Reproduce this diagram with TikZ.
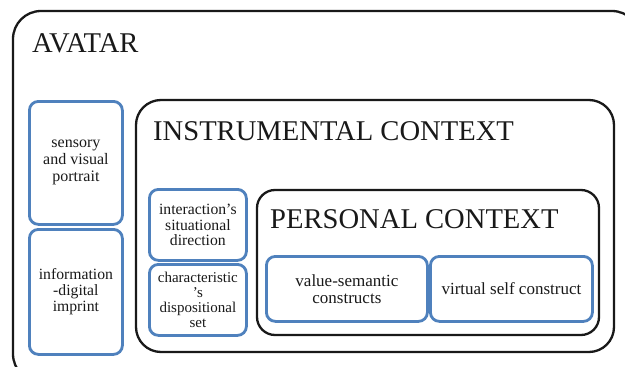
\documentclass[tikz,border=0pt]{standalone}
\usepackage{fontspec}
\setmainfont{Liberation Serif}
\usepackage{tikz}
\usetikzlibrary{positioning}

\definecolor{boxblue}{RGB}{79,129,189}

\begin{document}
\begin{tikzpicture}[x=1pt,y=-1pt,
    ctxbox/.style={draw=black!90,line width=2.3pt},
    bluebox/.style={draw=boxblue,line width=2.8pt,rounded corners=9pt,
      anchor=north west,align=center,inner sep=0pt,text=black!90},
    bigtitle/.style={anchor=base west,inner sep=0pt,text=black!90,
      font=\fontsize{28.6}{30}\selectfont}]
  \useasboundingbox (0,0) rectangle (625,367);

  % AVATAR block
  \draw[ctxbox,rounded corners=28pt] (13,11) rectangle (640,382);
  \node[bigtitle] (avatar) at (32,52) {AVATAR};

  % left column
  \node[bluebox,minimum width=93pt,minimum height=123pt,
    font=\fontsize{16}{17}\selectfont] (sensory) at (28,100)
    {sensory\\and visual\\portrait};
  \node[bluebox,minimum width=93pt,minimum height=125pt,
    font=\fontsize{15.7}{16}\selectfont] (imprint) at (28,228)
    {information\\-digital\\imprint};

  % INSTRUMENTAL CONTEXT
  \draw[ctxbox,rounded corners=25pt] (136,100) rectangle (614,352);
  \node[bigtitle] (instr) at (153,140) {INSTRUMENTAL CONTEXT};

  \node[bluebox,minimum width=97pt,minimum height=71pt,
    font=\fontsize{15.7}{15.5}\selectfont] (situational) at (148,188)
    {interaction’s\\situational\\direction};
  \node[bluebox,minimum width=97pt,minimum height=71pt,
    font=\fontsize{15}{15}\selectfont] (dispositional) at (148,263)
    {characteristic\\’s\\dispositional\\set};

  % PERSONAL CONTEXT
  \draw[ctxbox,rounded corners=18pt] (257,190) rectangle (599,335);
  \node[bigtitle] (personal) at (270,228) {PERSONAL CONTEXT};

  \node[bluebox,minimum width=161pt,minimum height=65pt,
    font=\fontsize{17}{17}\selectfont] (semantic) at (265,255)
    {value-semantic\\constructs};
  \node[bluebox,minimum width=162pt,minimum height=65pt,
    font=\fontsize{17}{17}\selectfont] (selfconstruct) at (429,255)
    {virtual self construct};
\end{tikzpicture}
\end{document}
